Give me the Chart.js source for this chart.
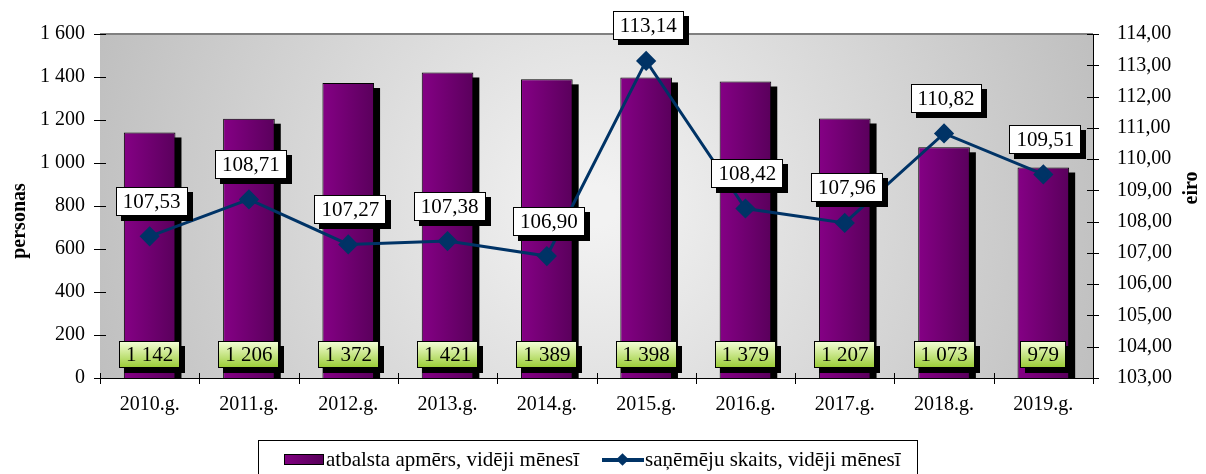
<!DOCTYPE html>
<html lang="lv">
<head>
    <meta charset="UTF-8">
    <title>Atbalsta apmērs un saņēmēju skaits</title>
    <script src="https://cdn.jsdelivr.net/npm/chart.js"></script>
    <style>
        body { margin: 0; background: #ffffff; }
        .wrap { position: relative; width: 1206px; height: 474px; overflow: hidden; }
        .legend {
            position: absolute; left: 258px; top: 440px; width: 660px; height: 44px;
            border: 1px solid #000; box-sizing: border-box;
            font-family: "Liberation Serif", "Times New Roman", serif; font-size: 21px; color: #000;
            display: flex; align-items: flex-start; justify-content: flex-start;
            padding-top: 6px; padding-left: 25px; white-space: nowrap;
        }
        .legend span.item { display: flex; align-items: center; }
        .swatch-bar {
            display: inline-block; width: 38px; height: 9px; border: 1px solid #000;
            background: linear-gradient(to right, #800080, #58005a); margin-right: 2px;
        }
        .swatch-line { position: relative; display: inline-block; width: 42px; height: 14px; margin-left: 23px; margin-right: 1px; }
        .swatch-line::before { content: ""; position: absolute; left: 0; right: 0; top: 5px; height: 4px; background: #003366; }
        .swatch-line::after {
            content: ""; position: absolute; left: 16px; top: 2px; width: 9px; height: 9px;
            background: #003366; transform: rotate(45deg);
        }
    </style>
</head>
<body>
<div class="wrap">
    <canvas id="chart"></canvas>
    <div class="legend">
        <span class="item"><span class="swatch-bar"></span>atbalsta apmērs, vidēji mēnesī</span>
        <span class="item"><span class="swatch-line"></span>saņēmēju skaits, vidēji mēnesī</span>
    </div>
</div>

<script>
    const years = ['2010.g.', '2011.g.', '2012.g.', '2013.g.', '2014.g.', '2015.g.', '2016.g.', '2017.g.', '2018.g.', '2019.g.'];
    const barValues = [1142, 1206, 1372, 1421, 1389, 1398, 1379, 1207, 1073, 979];
    const lineValues = [107.53, 108.71, 107.27, 107.38, 106.90, 113.14, 108.42, 107.96, 110.82, 109.51];
    const barLabel = 'atbalsta apmērs, vidēji mēnesī';
    const lineLabel = 'saņēmēju skaits, vidēji mēnesī';

    const FONT = '"Liberation Serif", serif';

    const fmtThousands = v => String(v).replace(/\B(?=(\d{3})+(?!\d))/g, ' ');
    const fmtComma = v => Number(v).toFixed(2).replace('.', ',');

    function boxLabel(ctx, text, cx, cy, fill) {
        ctx.font = '21px ' + FONT;
        const w = Math.round(ctx.measureText(text).width + 14);
        const h = fill === 'green' ? 27 : 29;
        const x = Math.round(cx - w / 2), y = Math.round(cy - h / 2);
        ctx.fillStyle = '#000';
        ctx.fillRect(x + 5, y + 5, w, h);
        if (fill === 'green') {
            const g = ctx.createLinearGradient(0, y, 0, y + h);
            g.addColorStop(0, '#f6ffdc');
            g.addColorStop(1, '#99cc33');
            ctx.fillStyle = g;
        } else {
            ctx.fillStyle = '#ffffff';
        }
        ctx.fillRect(x, y, w, h);
        ctx.strokeStyle = '#000';
        ctx.lineWidth = 1;
        ctx.strokeRect(x + 0.5, y + 0.5, w - 1, h - 1);
        ctx.fillStyle = '#000';
        ctx.textAlign = 'center';
        ctx.textBaseline = 'middle';
        ctx.fillText(text, cx, cy + 1);
    }

    const decor = {
        id: 'decor',
        beforeDatasetsDraw(chart) {
            const { ctx, chartArea: a } = chart;
            ctx.save();
            // plot background
            const g = ctx.createRadialGradient(a.left + a.width * 0.5, a.top + a.height * 0.5, 20,
                a.left + a.width * 0.5, a.top + a.height * 0.5, a.width * 0.55);
            g.addColorStop(0, '#f2f2f2');
            g.addColorStop(1, '#bdbdbd');
            ctx.fillStyle = g;
            ctx.fillRect(a.left, a.top, a.width, a.height);
            ctx.strokeStyle = '#808080';
            ctx.lineWidth = 2;
            ctx.beginPath();
            ctx.moveTo(a.left, a.top);
            ctx.lineTo(a.right, a.top);
            ctx.stroke();
            // bar shadows
            ctx.beginPath();
            ctx.rect(a.left, a.top, a.width, a.height);
            ctx.clip();
            ctx.fillStyle = '#000';
            chart.getDatasetMeta(0).data.forEach(el => {
                ctx.fillRect(el.x - el.width / 2 + 6, el.y + 5, el.width, el.base - el.y);
            });
            ctx.restore();
        },
        afterDatasetsDraw(chart) {
            const { ctx, chartArea: a, scales } = chart;
            ctx.save();
            // tick marks crossing the axes
            ctx.strokeStyle = '#000';
            ctx.lineWidth = 1;
            ctx.beginPath();
            scales.y.ticks.forEach(t => {
                const y = Math.round(scales.y.getPixelForValue(t.value)) + 0.5;
                ctx.moveTo(a.left - 6, y); ctx.lineTo(a.left + 6, y);
            });
            scales.y1.ticks.forEach(t => {
                const y = Math.round(scales.y1.getPixelForValue(t.value)) + 0.5;
                ctx.moveTo(a.right - 6, y); ctx.lineTo(a.right + 6, y);
            });
            const cw = a.width / years.length;
            for (let i = 0; i <= years.length; i++) {
                const x = Math.round(a.left + i * cw) + 0.5;
                ctx.moveTo(x, a.bottom - 5); ctx.lineTo(x, a.bottom + 6);
            }
            ctx.stroke();

            // labels
            chart.getDatasetMeta(0).data.forEach((el, i) => {
                boxLabel(ctx, fmtThousands(barValues[i]), el.x, a.bottom - 24, 'green');
            });
            chart.getDatasetMeta(1).data.forEach((el, i) => {
                boxLabel(ctx, fmtComma(lineValues[i]), el.x + 2, el.y - 35, 'white');
            });

            // axis titles
            ctx.font = 'bold 20px ' + FONT;
            ctx.fillStyle = '#000';
            ctx.textAlign = 'center';
            ctx.textBaseline = 'middle';
            ctx.save();
            ctx.translate(20, 221);
            ctx.rotate(-Math.PI / 2);
            ctx.fillText('personas', 0, 0);
            ctx.restore();
            ctx.save();
            ctx.translate(1192, 188);
            ctx.rotate(-Math.PI / 2);
            ctx.fillText('eiro', 0, 0);
            ctx.restore();
            ctx.restore();
        }
    };

    function barGradient(context) {
        const chart = context.chart;
        const a = chart.chartArea;
        if (!a || !chart.scales.x) return '#800080';
        const cx = chart.scales.x.getPixelForValue(context.dataIndex);
        const w = a.width / years.length * 0.52;
        const g = chart.ctx.createLinearGradient(cx - w / 2, 0, cx + w / 2, 0);
        g.addColorStop(0, '#850085');
        g.addColorStop(1, '#5a005c');
        return g;
    }

    new Chart(document.getElementById('chart'), {
        data: {
            labels: years,
            datasets: [
                {
                    type: 'bar',
                    label: barLabel,
                    data: barValues,
                    yAxisID: 'y',
                    backgroundColor: barGradient,
                    borderColor: '#000',
                    borderWidth: 1,
                    barPercentage: 0.52,
                    categoryPercentage: 1,
                    order: 2
                },
                {
                    type: 'line',
                    label: lineLabel,
                    data: lineValues,
                    yAxisID: 'y1',
                    borderColor: '#003366',
                    backgroundColor: '#003366',
                    borderWidth: 3,
                    pointStyle: 'rectRot',
                    pointRadius: 8,
                    pointHoverRadius: 8,
                    tension: 0,
                    order: 1
                }
            ]
        },
        options: {
            responsive: true,
            maintainAspectRatio: false,
            animation: false,
            layout: { padding: { top: 34, left: 0, right: 0, bottom: 0 } },
            plugins: {
                legend: { display: false },
                tooltip: { enabled: false }
            },
            scales: {
                x: {
                    grid: { display: false },
                    border: { display: true, color: '#000', width: 1 },
                    ticks: { color: '#000', font: { family: FONT, size: 20 }, padding: 7, maxRotation: 0 },
                    afterFit: s => { s.height = 96; }
                },
                y: {
                    position: 'left',
                    min: 0, max: 1600,
                    grid: { display: false },
                    border: { display: true, color: '#000', width: 1 },
                    ticks: { stepSize: 200, color: '#000', font: { family: FONT, size: 20 }, padding: 7,
                        callback: v => fmtThousands(v) },
                    afterFit: s => { s.width = 100; }
                },
                y1: {
                    position: 'right',
                    min: 103, max: 114,
                    grid: { display: false },
                    border: { display: true, color: '#000', width: 1 },
                    ticks: { stepSize: 1, color: '#000', font: { family: FONT, size: 20 }, padding: 16,
                        callback: v => fmtComma(v) },
                    afterFit: s => { s.width = 113; }
                }
            }
        },
        plugins: [decor]
    });
</script>
</body>
</html>
